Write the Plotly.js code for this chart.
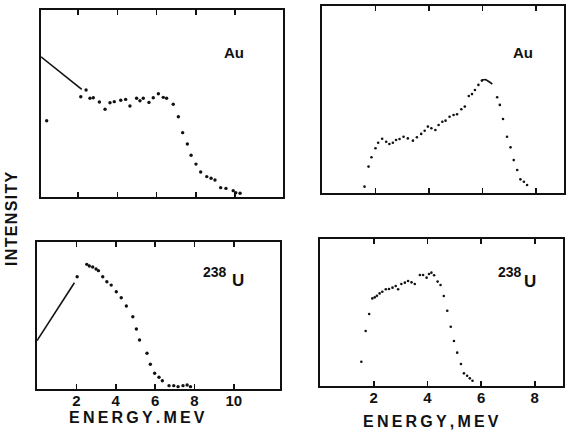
<!DOCTYPE html>
<html>
<head>
<meta charset="utf-8">
<script src="https://cdn.plot.ly/plotly-3.0.1.min.js"></script>
<style>html,body{margin:0;padding:0;background:#fff;}#chart{width:567px;height:430px;}</style>
</head>
<body>
<div id="chart"></div>
<script>
// ---- Data (energy in MeV, intensity in arbitrary units 0..1) ----
// Top-left: Au (solid line + dots)
const auLeftLineX = [0.1, 2.18];
const auLeftLineY = [0.750, 0.576];
const auLeftX = [0.39, 2.13, 2.40, 2.60, 2.77, 3.08, 3.37, 3.62, 3.84, 4.17, 4.42, 4.64, 4.98, 5.15, 5.32, 5.61, 5.83, 6.09, 6.34, 6.51, 6.85, 7.11, 7.33, 7.57, 7.76, 8.01, 8.25, 8.56, 8.78, 8.98, 9.27, 9.54, 9.91, 10.04, 10.26];
const auLeftY = [0.408, 0.536, 0.572, 0.528, 0.531, 0.508, 0.469, 0.504, 0.510, 0.517, 0.522, 0.487, 0.528, 0.515, 0.528, 0.506, 0.531, 0.552, 0.533, 0.528, 0.496, 0.429, 0.344, 0.283, 0.223, 0.176, 0.134, 0.109, 0.100, 0.091, 0.050, 0.046, 0.034, 0.023, 0.020];

// Top-right: Au
const auRightX = [1.59, 1.74, 1.85, 2.00, 2.10, 2.25, 2.40, 2.52, 2.65, 2.77, 2.90, 3.05, 3.21, 3.40, 3.55, 3.71, 3.84, 3.96, 4.09, 4.24, 4.36, 4.50, 4.62, 4.77, 4.92, 5.05, 5.21, 5.34, 5.49, 5.61, 5.72, 5.85, 5.98, 6.55, 6.65, 6.77, 6.92, 7.05, 7.17, 7.30, 7.42, 7.55, 7.67];
const auRightY = [0.034, 0.141, 0.191, 0.239, 0.269, 0.290, 0.274, 0.262, 0.269, 0.283, 0.289, 0.301, 0.292, 0.280, 0.298, 0.316, 0.333, 0.355, 0.346, 0.337, 0.364, 0.381, 0.387, 0.408, 0.417, 0.421, 0.448, 0.462, 0.519, 0.529, 0.551, 0.578, 0.601, 0.512, 0.471, 0.396, 0.301, 0.244, 0.176, 0.123, 0.073, 0.060, 0.043];
const auRightPeakX = [5.98, 6.12, 6.25, 6.37];
const auRightPeakY = [0.604, 0.607, 0.595, 0.583];

// Bottom-left: 238U (solid line + dots)
const uLeftLineX = [0.0, 1.90];
const uLeftLineY = [0.329, 0.723];
const uLeftX = [2.04, 2.53, 2.66, 2.83, 3.00, 3.12, 3.34, 3.55, 3.77, 4.03, 4.28, 4.54, 4.87, 5.05, 5.21, 5.59, 5.76, 5.98, 6.20, 6.37, 6.71, 6.95, 7.17, 7.42, 7.63, 7.80];
const uLeftY = [0.764, 0.848, 0.837, 0.830, 0.816, 0.805, 0.764, 0.730, 0.707, 0.662, 0.621, 0.565, 0.492, 0.408, 0.333, 0.243, 0.168, 0.107, 0.080, 0.056, 0.023, 0.023, 0.016, 0.023, 0.027, 0.016];

// Bottom-right: 238U
const uRightX = [1.54, 1.70, 1.83, 1.95, 2.04, 2.12, 2.22, 2.32, 2.45, 2.57, 2.70, 2.82, 2.91, 3.03, 3.16, 3.28, 3.41, 3.53, 3.72, 3.84, 3.97, 4.06, 4.15, 4.25, 4.38, 4.49, 4.61, 4.74, 4.87, 4.99, 5.11, 5.25, 5.36, 5.48, 5.58, 5.68];
const uRightY = [0.165, 0.374, 0.490, 0.596, 0.603, 0.614, 0.630, 0.641, 0.658, 0.660, 0.669, 0.680, 0.658, 0.694, 0.703, 0.714, 0.705, 0.694, 0.755, 0.755, 0.737, 0.762, 0.771, 0.753, 0.710, 0.687, 0.612, 0.512, 0.403, 0.306, 0.227, 0.150, 0.086, 0.070, 0.052, 0.036];

// Tick labels
const leftTicks = [2, 4, 6, 8, 10];
const rightTicks = [2, 4, 6, 8];
const xTitleLeft = "ENERGY.MEV";
const xTitleRight = "ENERGY,MEV";
const yTitle = "INTENSITY";
const labelAu = "Au";
const labelMass = "238";
const labelU = "U";

// ---- Helpers ----
const TS = "\u2009";
const HS = "\u200A";
const spaced = (s, sp) => s.split("").join(sp);
const FONT = "Liberation Sans, Arial, sans-serif";
const dotTrace = (x, y, xa, ya, size) => ({x, y, xaxis: xa, yaxis: ya, mode: "markers", type: "scatter", marker: {color: "#111", size}, hoverinfo: "skip"});
const lineTrace = (x, y, xa, ya, w) => ({x, y, xaxis: xa, yaxis: ya, mode: "lines", type: "scatter", line: {color: "#111", width: w}, hoverinfo: "skip"});

const data = [
  lineTrace(auLeftLineX, auLeftLineY, "x", "y", 1.6),
  dotTrace(auLeftX, auLeftY, "x", "y", 3.4),
  dotTrace(auRightX, auRightY, "x2", "y2", 2.6),
  lineTrace(auRightPeakX, auRightPeakY, "x2", "y2", 1.6),
  lineTrace(uLeftLineX, uLeftLineY, "x3", "y3", 1.6),
  dotTrace(uLeftX, uLeftY, "x3", "y3", 3.4),
  dotTrace(uRightX, uRightY, "x4", "y4", 2.6)
];

const xBase = (domain, range, ticks, anchor, labels) => ({
  domain, range, anchor, tickmode: "array", tickvals: ticks, ticktext: ticks.map(String),
  showticklabels: labels, ticks: "inside", ticklen: 5, tickwidth: 1.6, tickcolor: "#111",
  ticklabelstandoff: -3,
  mirror: "ticks", showline: true, linewidth: 2.2, linecolor: "#111",
  showgrid: false, zeroline: false, fixedrange: true,
  tickfont: {family: FONT, size: 15, color: "#111", weight: 700}
});
const yBase = (domain, anchor) => ({
  domain, range: [0, 1], anchor, showticklabels: false, ticks: "",
  mirror: true, showline: true, linewidth: 2.2, linecolor: "#111",
  showgrid: false, zeroline: false, fixedrange: true
});

const boldFont = (size) => ({family: FONT, size, color: "#111", weight: 700});
const ann = (text, xref, yref, x, y, size, extra) => Object.assign({
  text, xref, yref, x, y, xanchor: "center", yanchor: "middle", showarrow: false, font: boldFont(size)
}, extra || {});

const layout = {
  width: 567, height: 430,
  margin: {l: 0, r: 0, t: 0, b: 0},
  paper_bgcolor: "#fff", plot_bgcolor: "#fff",
  showlegend: false,
  xaxis:  xBase([0.0723, 0.4991], [0.1, 12.45], leftTicks, "y", false),
  yaxis:  yBase([0.5419, 0.9767], "x"),
  xaxis2: xBase([0.5679, 0.9947], [0, 9.05], rightTicks, "y2", false),
  yaxis2: yBase([0.5512, 0.9860], "x2"),
  xaxis3: xBase([0.0653, 0.4938], [0, 12.35], leftTicks, "y3", true),
  yaxis3: yBase([0.0953, 0.4372], "x3"),
  xaxis4: xBase([0.5644, 0.9929], [0, 9.05], rightTicks, "y4", true),
  yaxis4: yBase([0.1023, 0.4442], "x4"),
  annotations: [
    ann(labelAu, "x domain", "y domain", 0.797, 0.775, 15),
    ann(labelAu, "x2 domain", "y2 domain", 0.831, 0.749, 15),
    ann(labelMass, "x3 domain", "y3 domain", 0.733, 0.796, 14),
    ann(labelU, "x3 domain", "y3 domain", 0.827, 0.735, 17),
    ann(labelMass, "x4 domain", "y4 domain", 0.782, 0.776, 14),
    ann(labelU, "x4 domain", "y4 domain", 0.864, 0.714, 17),
    ann(spaced(xTitleLeft, TS), "paper", "paper", 0.2416, 0.0290, 16),
    ann(spaced(xTitleRight, TS), "paper", "paper", 0.760, 0.0200, 16),
    ann(spaced(yTitle, HS), "paper", "paper", 0.0194, 0.493, 16, {textangle: -90})
  ]
};

Plotly.newPlot("chart", data, layout, {staticPlot: true, displayModeBar: false});
</script>
</body>
</html>
